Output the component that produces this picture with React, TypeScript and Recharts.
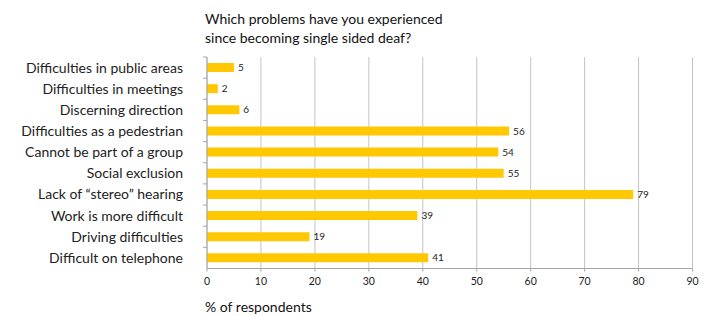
import { BarChart, Bar, XAxis, YAxis, CartesianGrid, LabelList } from "recharts";

const problems = [
  "Difficulties in public areas",
  "Difficulties in meetings",
  "Discerning direction",
  "Difficulties as a pedestrian",
  "Cannot be part of a group",
  "Social exclusion",
  "Lack of \u201cstereo\u201d hearing",
  "Work is more difficult",
  "Driving difficulties",
  "Difficult on telephone",
];
const respondents = [5, 2, 6, 56, 54, 55, 79, 39, 19, 41];
const xTicks = [0, 10, 20, 30, 40, 50, 60, 70, 80, 90];

const data = problems.map((p, i) => ({ problem: p, value: respondents[i] }));

const FONT = "Lato, 'Open Sans', sans-serif";
const AXIS = "#a6a6a6";
const PLOT_H = 211.5;

// category label plus a small tick on the boundary between bands
function CategoryTick(props: any) {
  const { x, y, payload, visibleTicksCount } = props;
  const band = PLOT_H / (visibleTicksCount || 10);
  return (
    <g>
      <line x1={x + 4} x2={x + 8} y1={y - band / 2} y2={y - band / 2} stroke={AXIS} />
      <text x={x - 16} y={y} dy={5} textAnchor="end" fontSize={14} fill="#222" fontFamily={FONT}>
        {payload.value}
      </text>
    </g>
  );
}

export default function App() {
  return (
    <div style={{ position: "absolute", left: 0, top: 0, width: 707, height: 316, background: "#fff", fontFamily: FONT }}>
      <div style={{ position: "absolute", left: 205, top: 9, fontSize: 14, lineHeight: "19px", color: "#111" }}>
        Which problems have you experienced
        <br />
        since becoming single sided deaf?
      </div>
      <BarChart
        width={707}
        height={316}
        data={data}
        layout="vertical"
        margin={{ top: 57, right: 14.5, bottom: 27.5, left: 0 }}
      >
        <CartesianGrid horizontal={false} stroke="#c4c4c4" />
        <XAxis
          type="number"
          domain={[0, 90]}
          ticks={xTicks}
          interval={0}
          height={20}
          stroke={AXIS}
          tickSize={3}
          tickMargin={6}
          tick={{ fontSize: 10.5, fill: "#222", fontFamily: FONT }}
        />
        <YAxis
          type="category"
          dataKey="problem"
          width={207}
          stroke={AXIS}
          tickLine={false}
          interval={0}
          tick={<CategoryTick />}
        />
        <Bar dataKey="value" fill="#ffc800" barSize={9} isAnimationActive={false}>
          <LabelList dataKey="value" position="right" offset={4} fontSize={10} fill="#222" fontFamily={FONT} />
        </Bar>
      </BarChart>
      <div style={{ position: "absolute", left: 205, top: 298, fontSize: 14, color: "#111" }}>% of respondents</div>
    </div>
  );
}
